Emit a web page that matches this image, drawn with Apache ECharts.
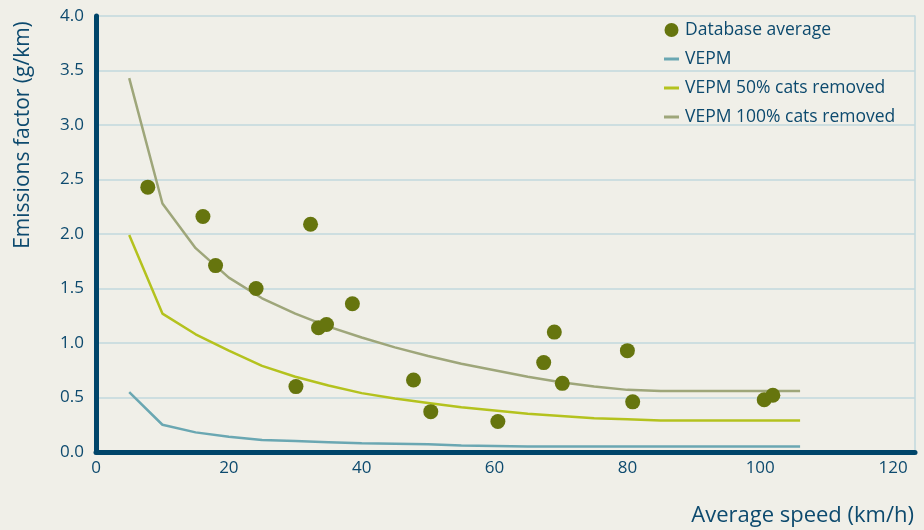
<!DOCTYPE html>
<html>
<head>
<meta charset="utf-8">
<script src="https://cdn.jsdelivr.net/npm/echarts@6/dist/echarts.min.js"></script>
<style>
html,body{margin:0;padding:0;background:#f0efe8;}
#chart{width:924px;height:530px;}
</style>
</head>
<body>
<div id="chart"></div>
<script>
// Database average points: [speed km/h, emissions g/km]
const dbSpeed = [7.8, 16.1, 18.0, 24.1, 30.1, 32.3, 33.5, 34.7, 38.6, 47.8, 50.4, 60.5, 67.4, 69.0, 70.2, 80.0, 80.8, 100.6, 101.9];
const dbValue = [2.43, 2.16, 1.71, 1.50, 0.60, 2.09, 1.14, 1.17, 1.36, 0.66, 0.37, 0.28, 0.82, 1.10, 0.63, 0.93, 0.46, 0.48, 0.52];

// model curves
const curveSpeed = [5, 10, 15, 20, 25, 30, 35, 40, 45, 50, 55, 60, 65, 70, 75, 80, 85, 106];
const vepm      = [0.55, 0.25, 0.18, 0.14, 0.11, 0.10, 0.09, 0.08, 0.075, 0.07, 0.06, 0.055, 0.05, 0.05, 0.05, 0.05, 0.05, 0.05];
const vepm50    = [1.99, 1.27, 1.08, 0.93, 0.79, 0.69, 0.61, 0.54, 0.49, 0.45, 0.41, 0.38, 0.35, 0.33, 0.31, 0.30, 0.29, 0.29];
const vepm100   = [3.43, 2.28, 1.87, 1.60, 1.41, 1.27, 1.15, 1.05, 0.96, 0.88, 0.81, 0.75, 0.69, 0.64, 0.60, 0.57, 0.56, 0.56];

const seriesNames = ['Database average', 'VEPM', 'VEPM 50% cats removed', 'VEPM 100% cats removed'];
const xTicks = [0, 20, 40, 60, 80, 100, 120];

const textColor = '#0d4a6e';
const axisColor = '#00456a';
const gridColor = '#c2d8de';
const font = 'Open Sans';
const lineIcon = 'path://M0,0 L15,0 L15,3 L0,3 Z';

function pairs(xs, ys) { return xs.map((x, i) => [x, ys[i]]); }

const chart = echarts.init(document.getElementById('chart'));
chart.setOption({
  backgroundColor: '#f0efe8',
  animation: false,
  grid: { left: 96, top: 16, right: 9, bottom: 78 },
  legend: {
    orient: 'vertical',
    left: 659,
    top: 16,
    itemWidth: 15,
    itemHeight: 14,
    itemGap: 11,
    symbolKeepAspect: true,
    textStyle: { color: textColor, fontSize: 17.5, fontFamily: font, lineHeight: 17, padding: [0, 0, 0, 1] },
    data: [
      { name: seriesNames[0], icon: 'circle' },
      { name: seriesNames[1], icon: lineIcon },
      { name: seriesNames[2], icon: lineIcon },
      { name: seriesNames[3], icon: lineIcon }
    ]
  },
  xAxis: {
    type: 'value',
    min: 0, max: 123.3, interval: 20,
    axisLine: { show: true, lineStyle: { color: axisColor, width: 5, cap: 'round' } },
    axisTick: { show: false },
    splitLine: { show: false },
    axisLabel: {
      color: textColor, fontSize: 17, fontFamily: font, margin: 8,
      formatter: v => (xTicks.indexOf(v) >= 0 ? String(v) : '')
    }
  },
  yAxis: [{
    type: 'value',
    min: 0, max: 4, interval: 0.5,
    axisLine: { show: true, lineStyle: { color: axisColor, width: 5, cap: 'round' } },
    axisTick: { show: false },
    splitLine: { show: true, lineStyle: { color: gridColor, width: 1.5 } },
    axisLabel: { color: textColor, fontSize: 17, fontFamily: font, margin: 12, formatter: v => v.toFixed(1) }
  }, {
    type: 'value', position: 'right',
    min: 0, max: 4, interval: 0.5,
    axisLine: { show: true, lineStyle: { color: gridColor, width: 1.5 } },
    axisTick: { show: false }, axisLabel: { show: false }, splitLine: { show: false }
  }],
  series: [
    {
      name: seriesNames[3], type: 'line', data: pairs(curveSpeed, vepm100),
      symbol: 'none', lineStyle: { color: '#9ea67a', width: 2.5 }, itemStyle: { color: '#9ea67a' }, z: 2
    },
    {
      name: seriesNames[2], type: 'line', data: pairs(curveSpeed, vepm50),
      symbol: 'none', lineStyle: { color: '#b4c21e', width: 2.5 }, itemStyle: { color: '#b4c21e' }, z: 2
    },
    {
      name: seriesNames[1], type: 'line', data: pairs(curveSpeed, vepm),
      symbol: 'none', lineStyle: { color: '#6aa7b2', width: 2.5 }, itemStyle: { color: '#6aa7b2' }, z: 2
    },
    {
      name: seriesNames[0], type: 'scatter', data: pairs(dbSpeed, dbValue),
      symbol: 'circle', symbolSize: 15, itemStyle: { color: '#66750e', opacity: 1 }, z: 3
    }
  ],
  graphic: [
    {
      type: 'text', x: 23, y: 135, rotation: Math.PI / 2,
      style: { text: 'Emissions factor (g/km)', fill: textColor, font: '21px "Open Sans"', align: 'center', verticalAlign: 'middle' }
    },
    {
      type: 'text', x: 914, y: 516,
      style: { text: 'Average speed (km/h)', fill: textColor, font: '22px "Open Sans"', align: 'right', verticalAlign: 'middle' }
    }
  ]
});
</script>
</body>
</html>
